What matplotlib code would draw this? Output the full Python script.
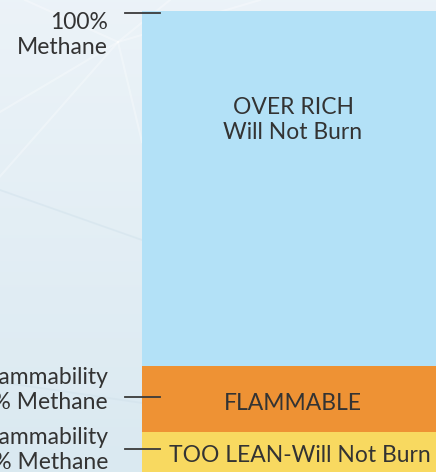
import numpy as np
import matplotlib
matplotlib.use("Agg")
import matplotlib.pyplot as plt

# Franjas de inflamabilidad del metano (unidades esquemáticas del gráfico)
band_labels = ["TOO LEAN-Will Not Burn", "FLAMMABLE", "OVER RICH\nWill Not Burn"]
band_bottoms = [-10, 40, 106]
band_heights = [50, 66, 355]
band_colors = ["#f8d960", "#ee9234", "#b3e1f7"]

# Marcas del eje izquierdo
mark_levels = [459, 75, 23]
mark_labels = ["100%\nMethane", "Upper Flammability\n15% Methane", "Lower Flammability\n5% Methane"]
label_offsets = [-22, 7, -1]   # centro del texto respecto a la marca

TEXT = "#333333"
FS = 16.5
plt.rcParams["font.family"] = ["Lato", "DejaVu Sans"]

fig = plt.figure(figsize=(4.36, 4.72), dpi=100)
ax = fig.add_axes([0, 0, 1, 1])
ax.set_xlim(0, 436)
ax.set_ylim(0, 472)
ax.axis("off")

# Fondo degradado con líneas decorativas tenues
grad = np.linspace(0, 1, 256).reshape(-1, 1)
top = np.array([0.925, 0.953, 0.973])
bot = np.array([0.855, 0.914, 0.945])
img = bot + (top - bot) * grad
ax.imshow(np.repeat(img[:, None, :], 2, axis=1),
          extent=[0, 436, 0, 472], origin="lower", aspect="auto", zorder=0)
hub = (118, 430)
for end in [(0, 360), (25, 472), (-40, 250), (170, 472), (260, 472), (142, 330)]:
    ax.plot([hub[0], end[0]], [hub[1], end[1]], color="white", alpha=0.3, lw=1.5, zorder=1)
ax.plot([0, 142], [282, 232], color="#cfe0ea", alpha=0.45, lw=1.3, zorder=1)
ax.plot([0, 142], [90, 69], color="#cfe0ea", alpha=0.45, lw=1.3, zorder=1)

# Barra apilada (se sale un poco por la derecha)
bar_x, bar_w = 293, 302
ax.bar(bar_x, band_heights, bottom=band_bottoms, width=bar_w,
       color=band_colors, zorder=2)
for lab, b, h in zip(band_labels, band_bottoms, band_heights):
    xc, yc = bar_x, b + h / 2 - 4
    if b < 0:
        xc, yc = bar_x + 7, 17
    elif h > 300:
        yc = 352
    ax.text(xc, yc, lab, ha="center", va="center", fontsize=FS,
            color=TEXT, linespacing=1.2, zorder=3)

# Marcas y etiquetas
for lev, lab, off in zip(mark_levels, mark_labels, label_offsets):
    ax.plot([125, 160], [lev, lev], color="#3a3a3a", lw=1.3, zorder=4)
    ax.text(108, lev + off, lab, ha="right", va="center", fontsize=FS,
            color=TEXT, linespacing=1.2, zorder=4)

fig.savefig("out.png", dpi=100)
